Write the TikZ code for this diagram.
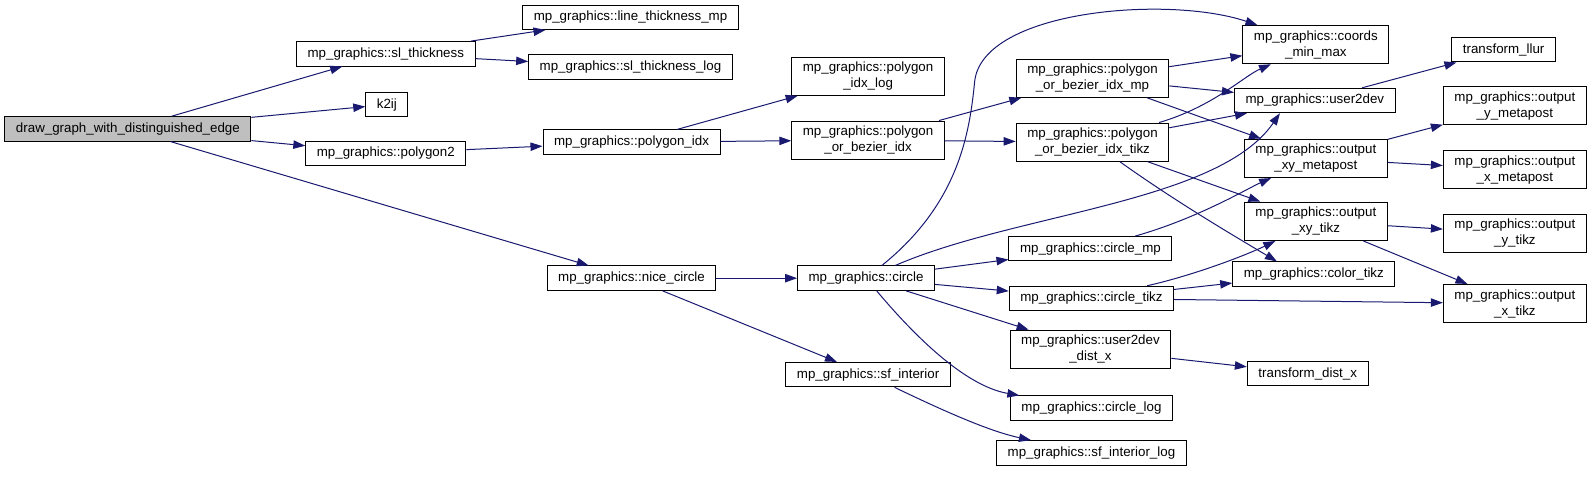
\documentclass[tikz,border=0pt]{standalone}
\usepackage{fontspec}
\setmainfont{Liberation Sans}
\usepackage{tikz}
\usetikzlibrary{arrows.meta}
\definecolor{callblue}{RGB}{25,25,112}

\begin{document}
\begin{tikzpicture}[x=0.7615pt, y=-0.7615pt,
          fn/.style={draw=black, fill=white, line width=0.75pt,
                     font=\fontsize{10}{12}\selectfont, align=center,
                     inner xsep=8.3pt, inner ysep=3.7pt, minimum height=18.3pt},
          rootfn/.style={fn, fill=black!25},
          call/.style={-{Triangle[length=9pt,width=6.3pt]}, line width=0.75pt, callblue}
        ]
          \useasboundingbox (0,0) rectangle (1568,470);
          \node[rootfn] (dg)   at (126,127) {draw\_graph\_with\_distinguished\_edge};
          \node[fn] (slt)      at (380,53)  {mp\_graphics::sl\_thickness};
          \node[fn] (k2ij)     at (381,103) {k2ij};
          \node[fn] (pg2)      at (380,151) {mp\_graphics::polygon2};
          \node[fn] (ltmp)     at (621,17)  {mp\_graphics::line\_thickness\_mp};
          \node[fn] (sltlog)   at (621,66)  {mp\_graphics::sl\_thickness\_log};
          \node[fn] (pidx)     at (622,140) {mp\_graphics::polygon\_idx};
          \node[fn] (pidxlog)  at (855,75)  {mp\_graphics::polygon\\\_idx\_log};
          \node[fn] (pobi)     at (855,138) {mp\_graphics::polygon\\\_or\_bezier\_idx};
          \node[fn] (pobimp)   at (1076,77) {mp\_graphics::polygon\\\_or\_bezier\_idx\_mp};
          \node[fn] (pobitikz) at (1076,140) {mp\_graphics::polygon\\\_or\_bezier\_idx\_tikz};
          \node[fn] (cmm)      at (1296,44) {mp\_graphics::coords\\\_min\_max};
          \node[fn] (u2d)      at (1295,99) {mp\_graphics::user2dev};
          \node[fn] (oxym)     at (1296,156) {mp\_graphics::output\\\_xy\_metapost};
          \node[fn] (oxyt)     at (1296,218) {mp\_graphics::output\\\_xy\_tikz};
          \node[fn] (ctikz)    at (1294,270) {mp\_graphics::color\_tikz};
          \node[fn] (tllur)    at (1481,49) {transform\_llur};
          \node[fn] (oym)      at (1492,104) {mp\_graphics::output\\\_y\_metapost};
          \node[fn] (oxm)      at (1492,167) {mp\_graphics::output\\\_x\_metapost};
          \node[fn] (oyt)      at (1492,230) {mp\_graphics::output\\\_y\_tikz};
          \node[fn] (oxt)      at (1492,299) {mp\_graphics::output\\\_x\_tikz};
          \node[fn] (ncirc)    at (622,274) {mp\_graphics::nice\_circle};
          \node[fn] (circ)     at (853,274) {mp\_graphics::circle};
          \node[fn] (cmp)      at (1074,245) {mp\_graphics::circle\_mp};
          \node[fn] (ctk)      at (1075,294) {mp\_graphics::circle\_tikz};
          \node[fn] (u2ddx)    at (1074,344) {mp\_graphics::user2dev\\\_dist\_x};
          \node[fn] (clog)     at (1075,402) {mp\_graphics::circle\_log};
          \node[fn] (tdx)      at (1288,368) {transform\_dist\_x};
          \node[fn] (sfi)      at (855,369) {mp\_graphics::sf\_interior};
          \node[fn] (sfilog)   at (1075,446) {mp\_graphics::sf\_interior\_log};
          % calls of the root function
          \draw[call] (dg) -- (slt);
          \draw[call] (dg) -- (k2ij);
          \draw[call] (dg) -- (pg2);
          \draw[call] (dg) -- (ncirc);
          \draw[call] (slt) -- (ltmp);
          \draw[call] (slt) -- (sltlog);
          \draw[call] (pg2) -- (pidx);
          \draw[call] (pidx) -- (pidxlog);
          \draw[call] (pidx) -- (pobi);
          \draw[call] (pobi) -- (pobimp);
          \draw[call] (pobi) -- (pobitikz);
          \draw[call] (pobimp) -- (cmm);
          \draw[call] (pobimp) -- (u2d);
          \draw[call] (pobimp) -- (oxym);
          \draw[call] (pobitikz) .. controls (1195,105) and (1225,75) .. (cmm);
          \draw[call] (pobitikz) -- (u2d);
          \draw[call] (pobitikz) -- (oxyt);
          \draw[call] (pobitikz) .. controls (1160,200) and (1220,235) .. (ctikz.161);
          \draw[call] (u2d) -- (tllur);
          \draw[call] (oxym) -- (oym);
          \draw[call] (oxym) -- (oxm);
          \draw[call] (oxyt) -- (oyt);
          \draw[call] (oxyt) -- (oxt);
          \draw[call] (ncirc) -- (circ);
          \draw[call] (ncirc) -- (sfi);
          % long curved calls out of circle
          \draw[call] (circ) .. controls (945,200) and (955,130) .. (960,80)
                             .. controls (968,10) and (1150,-5) .. (cmm);
          \draw[call] (circ) .. controls (1000,210) and (1200,200) .. (u2d.200);
          \draw[call] (circ) -- (cmp);
          \draw[call] (circ) -- (ctk);
          \draw[call] (circ) -- (u2ddx);
          \draw[call] (circ) .. controls (900,330) and (950,380) .. (clog);
          \draw[call] (cmp) .. controls (1180,215) and (1230,185) .. (oxym);
          \draw[call] (ctk) .. controls (1180,270) and (1230,250) .. (oxyt);
          \draw[call] (ctk) -- (ctikz);
          \draw[call] (ctk) -- (oxt);
          \draw[call] (u2ddx) -- (tdx);
          \draw[call] (sfi) .. controls (930,405) and (975,425) .. (sfilog);
        \end{tikzpicture}
\end{document}
